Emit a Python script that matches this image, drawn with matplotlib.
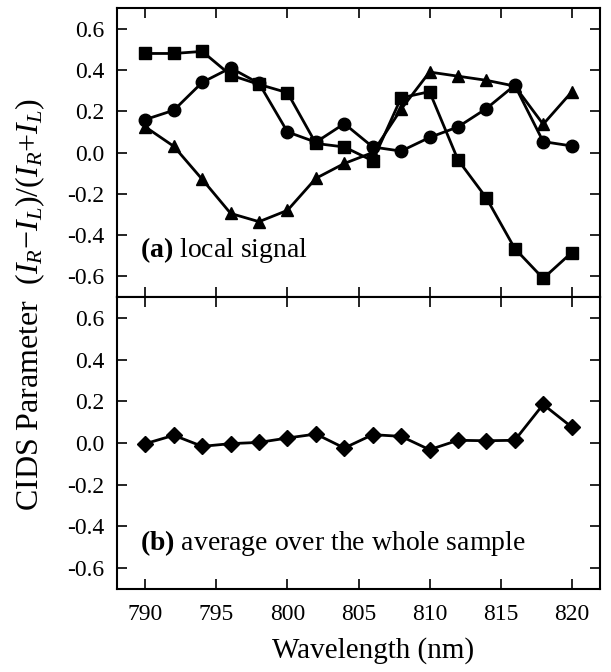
import numpy as np
import matplotlib
matplotlib.use("Agg")
import matplotlib.pyplot as plt

plt.rcParams['font.family'] = ['Liberation Serif', 'DejaVu Serif']
plt.rcParams['mathtext.fontset'] = 'custom'
plt.rcParams['mathtext.rm'] = 'Liberation Serif'
plt.rcParams['mathtext.it'] = 'Liberation Serif:italic'
plt.rcParams['mathtext.bf'] = 'Liberation Serif:bold'

# wavelength grid (nm)
wavelength = [790, 792, 794, 796, 798, 800, 802, 804, 806, 808, 810, 812, 814, 816, 818, 820]

# (a) local signal, three spots
local_square = [0.48, 0.48, 0.49, 0.375, 0.33, 0.29, 0.044, 0.027, -0.04, 0.265,
                0.295, -0.035, -0.22, -0.465, -0.61, -0.485]
local_circle = [0.16, 0.205, 0.34, 0.41, 0.335, 0.10, 0.05, 0.14, 0.027, 0.007,
                0.073, 0.124, 0.213, 0.326, 0.053, 0.032]
local_triangle = [0.124, 0.03, -0.13, -0.295, -0.335, -0.28, -0.125, -0.053, 0.0, 0.21,
                  0.39, 0.37, 0.35, 0.322, 0.137, 0.293]

# (b) average over the whole sample
average = [-0.003, 0.037, -0.016, -0.003, 0.003, 0.024, 0.043, -0.024, 0.040, 0.032,
           -0.032, 0.013, 0.011, 0.013, 0.185, 0.077]

fig = plt.figure(figsize=(6.11, 6.72), dpi=100)
ax1 = fig.add_axes([0.1915, 0.558, 0.7905, 0.430])
ax2 = fig.add_axes([0.1915, 0.1235, 0.7905, 0.4345])

lw = 2.0
ax1.plot(wavelength, local_square, 's-', color='black', lw=lw, ms=8.5)
ax1.plot(wavelength, local_circle, 'o-', color='black', lw=lw, ms=9)
ax1.plot(wavelength, local_triangle, '^-', color='black', lw=lw, ms=9)
ax2.plot(wavelength, average, 'D-', color='black', lw=lw, ms=8)

yticks = [-0.6, -0.4, -0.2, 0.0, 0.2, 0.4, 0.6]
for ax in (ax1, ax2):
    ax.set_xlim(788, 822)
    ax.set_ylim(-0.7, 0.7)
    ax.set_xticks([790, 795, 800, 805, 810, 815, 820])
    ax.set_yticks(yticks)
    ax.set_yticklabels([f"{v:.1f}" for v in yticks])
    ax.tick_params(direction='in', top=True, right=True, length=7, width=1.2,
                   labelsize=17, pad=9)
    for s in ax.spines.values():
        s.set_linewidth(1.5)

ax1.tick_params(labelbottom=False)
ax2.tick_params(axis='x', pad=11)

ax1.text(789.6, -0.47, r"$\mathbf{(a)}$ local signal", fontsize=20, va='center')
ax2.text(789.6, -0.48, r"$\mathbf{(b)}$ average over the whole sample", fontsize=20, va='center')

ax2.set_xlabel("Wavelength (nm)", fontsize=21)
ax2.xaxis.set_label_coords(0.53, -0.165)
fig.text(0.049, 0.546, r"CIDS Parameter  $(I_R{-}I_L)/(I_R{+}I_L)$", fontsize=23,
         rotation=90, ha='center', va='center')

fig.savefig("out.png", dpi=100)
